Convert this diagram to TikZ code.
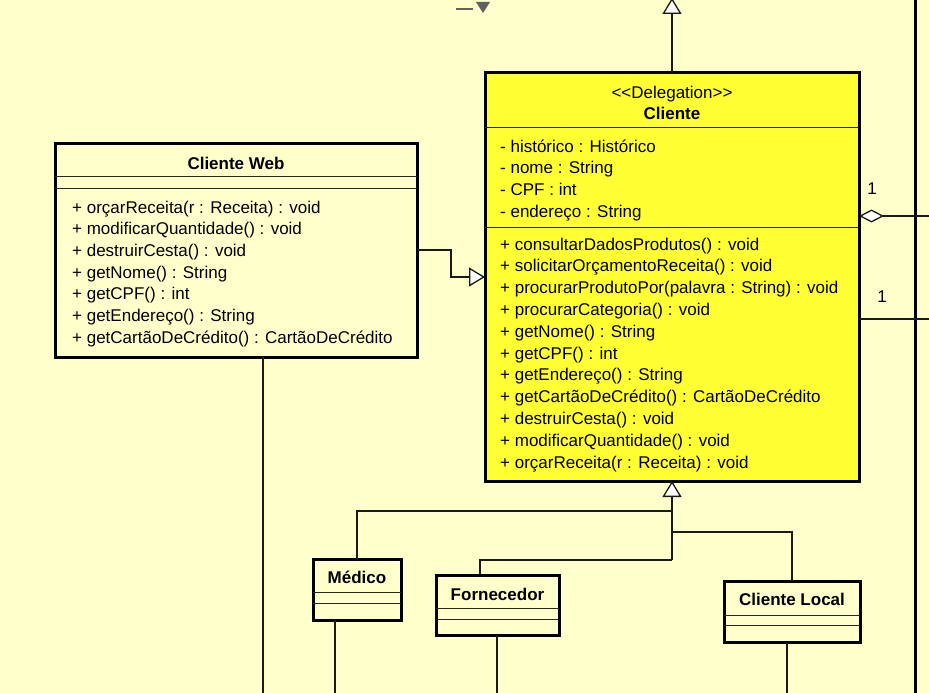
\documentclass[tikz,border=0pt]{standalone}
\usepackage{fontspec}
\setmainfont{Liberation Sans}
\usetikzlibrary{arrows.meta,calc}

\definecolor{canvas}{RGB}{255,255,204}
\definecolor{delegfill}{RGB}{255,255,51}
\definecolor{icongray}{RGB}{96,96,96}

\tikzset{
  x=1pt, y=-1pt,
  classbox/.style={draw=black, line width=3pt, fill=canvas, anchor=north west,
    inner sep=0pt, outer sep=0pt},
  sepline/.style={draw=black!85, line width=1pt},
  link/.style={draw=black!90, line width=1.3pt},
  gen/.style={link, -{Triangle[length=16pt,width=19pt,fill=white,line width=1.3pt]}},
  agg/.style={link, {Diamond[length=25pt,width=13pt,fill=white,line width=1.3pt]}-},
  member/.style={anchor=base west, inner sep=0pt, font=\fontsize{17}{20}\selectfont},
  ctitle/.style={anchor=base, inner sep=0pt, font=\fontsize{17}{20}\selectfont\bfseries},
  stereo/.style={anchor=base, inner sep=0pt, font=\fontsize{17}{20}\selectfont},
  mult/.style={anchor=center, inner sep=0pt, font=\fontsize{17}{20}\selectfont},
}

\begin{document}
\begin{tikzpicture}
\useasboundingbox (0,0) rectangle (929,693);
\fill[canvas] (0,0) rectangle (929,693);
\clip (0,0) rectangle (929,693);

% class partly outside the view on the right
\node[classbox, minimum width=200, minimum height=800] (rightcls) at (915,-50) {};

% toolbar glyph
\fill[icongray] (456,8) rectangle (473,10.5);
\fill[icongray] (476,2) -- (490,2) -- (483,13) -- cycle;

% ---------- classes ----------
\node[classbox, minimum width=374, minimum height=408, fill=delegfill] (cliente) at (485,73) {};
\node[classbox, minimum width=362, minimum height=214] (cliweb) at (55,143) {};
\node[classbox, minimum width=88, minimum height=61] (medico) at (313,559) {};
\node[classbox, minimum width=123, minimum height=60] (fornec) at (436,575) {};
\node[classbox, minimum width=136, minimum height=61] (clilocal) at (724,581) {};

% compartment separators
\foreach \b/\ya/\yb in {cliente/127/227, cliweb/176/188, medico/592/603,
                        fornec/608/619, clilocal/615/625}{
  \draw[sepline] (\b.west |- 0,\ya) -- (\b.east |- 0,\ya);
  \draw[sepline] (\b.west |- 0,\yb) -- (\b.east |- 0,\yb);
}

% Cliente
\node[stereo] (cliente-st) at (672,98) {<\kern0pt<Delegation>\kern0pt>};
\node[ctitle] (cliente-nm) at (672,119) {Cliente};
\foreach \t [count=\i from 0] in {
  {- histórico : Histórico},
  {- nome : String},
  {- CPF : int},
  {- endereço : String}}
  \node[member] (cliente-a\i) at (500,152+21.7*\i) {\t};
\foreach \t [count=\i from 0] in {
  {+ consultarDadosProdutos() : void},
  {+ solicitarOrçamentoReceita() : void},
  {+ procurarProdutoPor(palavra : String) : void},
  {+ procurarCategoria() : void},
  {+ getNome() : String},
  {+ getCPF() : int},
  {+ getEndereço() : String},
  {+ getCartãoDeCrédito() : CartãoDeCrédito},
  {+ destruirCesta() : void},
  {+ modificarQuantidade() : void},
  {+ orçarReceita(r : Receita) : void}}
  \node[member] (cliente-m\i) at (500,250+21.8*\i) {\t};

% Cliente Web
\node[ctitle] (cliweb-nm) at (236,169) {Cliente Web};
\foreach \t [count=\i from 0] in {
  {+ orçarReceita(r : Receita) : void},
  {+ modificarQuantidade() : void},
  {+ destruirCesta() : void},
  {+ getNome() : String},
  {+ getCPF() : int},
  {+ getEndereço() : String},
  {+ getCartãoDeCrédito() : CartãoDeCrédito}}
  \node[member] (cliweb-m\i) at (72,213+21.7*\i) {\t};

% subclasses
\node[ctitle] (medico-nm) at (357,583) {Médico};
\node[ctitle] (fornec-nm) at (497.5,600) {Fornecedor};
\node[ctitle] (clilocal-nm) at (792,605) {Cliente Local};

% ---------- connectors ----------
\coordinate (superout) at (672,-2);
\draw[gen] (cliente.north) -- (superout);

\draw[gen] (cliweb.east) -- ++(34,0) |- (cliente.west);

\coordinate (jmed) at (672,511);
\coordinate (jloc) at (672,532);
\coordinate (jfor) at (672,560);
\draw[link] (medico.north) |- (jmed);
\draw[link] (clilocal.north) |- (jloc);
\draw[link] ($(fornec.north)+(-17.5,0)$) |- (jfor);
\draw[gen] (jfor) -- (cliente.south);

\coordinate (webout) at (263,700);
\coordinate (medout) at (335,700);
\coordinate (forout) at (497,700);
\coordinate (locout) at (787,700);
\draw[link] (cliweb.south -| webout) -- (webout);
\draw[link] (medico.south -| medout) -- (medout);
\draw[link] (fornec.south -| forout) -- (forout);
\draw[link] (clilocal.south -| locout) -- (locout);

\coordinate (aggout) at (935,216);
\coordinate (assocout) at (935,319);
\draw[agg] (cliente.east |- aggout) -- (aggout);
\draw[link] (cliente.east |- assocout) -- (assocout);
\node[mult] (agg-m) at (872,189) {1};
\node[mult] (assoc-m) at (882,297) {1};
\end{tikzpicture}
\end{document}
